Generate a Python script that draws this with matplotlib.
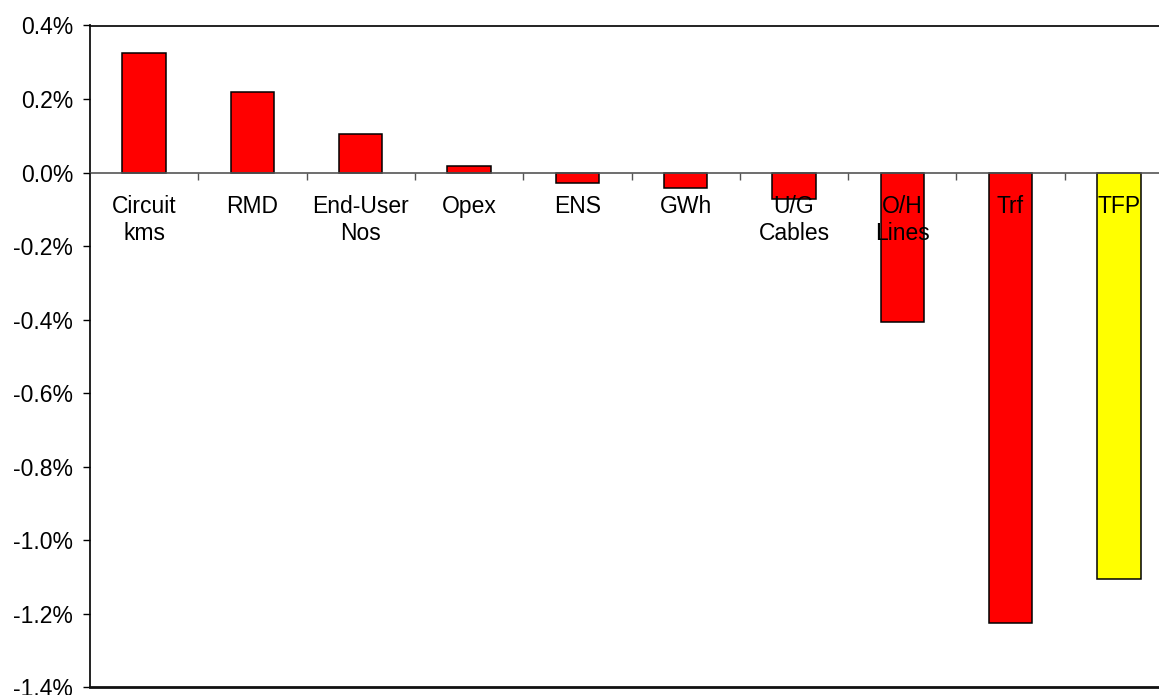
import matplotlib
matplotlib.use('Agg')
import matplotlib.pyplot as plt
import numpy as np

categories = ["Circuit\nkms", "RMD", "End-User\nNos", "Opex", "ENS", "GWh",
              "U/G\nCables", "O/H\nLines", "Trf", "TFP"]
values = [0.3265, 0.220, 0.1045, 0.018, -0.027, -0.041, -0.072, -0.407, -1.2235, -1.1056]
bar_colors = ['#FF0000'] * 9 + ['#FFFF00']
yticks = [0.4, 0.2, 0.0, -0.2, -0.4, -0.6, -0.8, -1.0, -1.2, -1.4]
ytick_labels = ["0.4%", "0.2%", "0.0%", "-0.2%", "-0.4%", "-0.6%", "-0.8%",
                "-1.0%", "-1.2%", "-1.4%"]

plt.rcParams['font.family'] = ['Liberation Sans', 'DejaVu Sans']

fig = plt.figure(figsize=(11.59, 6.95), dpi=100)
ax = fig.add_axes([90 / 1159, 7.5 / 695, 1083 / 1159, 662 / 695])
ax.set_axisbelow(False)

x = np.arange(len(categories))
ax.bar(x, values, width=0.4, color=bar_colors, edgecolor='black', linewidth=1.1, zorder=1)

ax.set_xlim(-0.5, len(categories) - 0.5)
ax.set_ylim(yticks[-1], yticks[0])
ax.set_yticks(yticks)
ax.set_yticklabels(ytick_labels, fontsize=16.5)
ax.tick_params(axis='y', direction='out', length=5, width=1, pad=7)

ax.spines['bottom'].set_position(('data', 0))
ax.spines['bottom'].set_color('#555555')
ax.spines['bottom'].set_linewidth(1.2)
for s in ['left', 'top', 'right']:
    ax.spines[s].set_color('#111111')
    ax.spines[s].set_linewidth(1.3)

ax.set_xticks(x + 0.5)
ax.set_xticklabels([])
ax.set_xticks(x, minor=True)
ax.set_xticklabels(categories, minor=True, fontsize=16.5)
for lab in ax.get_xticklabels(minor=True):
    lab.set_linespacing(1.25)
ax.tick_params(axis='x', which='major', direction='out', length=5, width=1, color='#555555')
ax.tick_params(axis='x', which='minor', length=0, pad=16)

ax.axhline(yticks[-1], color='#111111', lw=2, clip_on=False, zorder=3)

fig.savefig('out.png', dpi=100)
